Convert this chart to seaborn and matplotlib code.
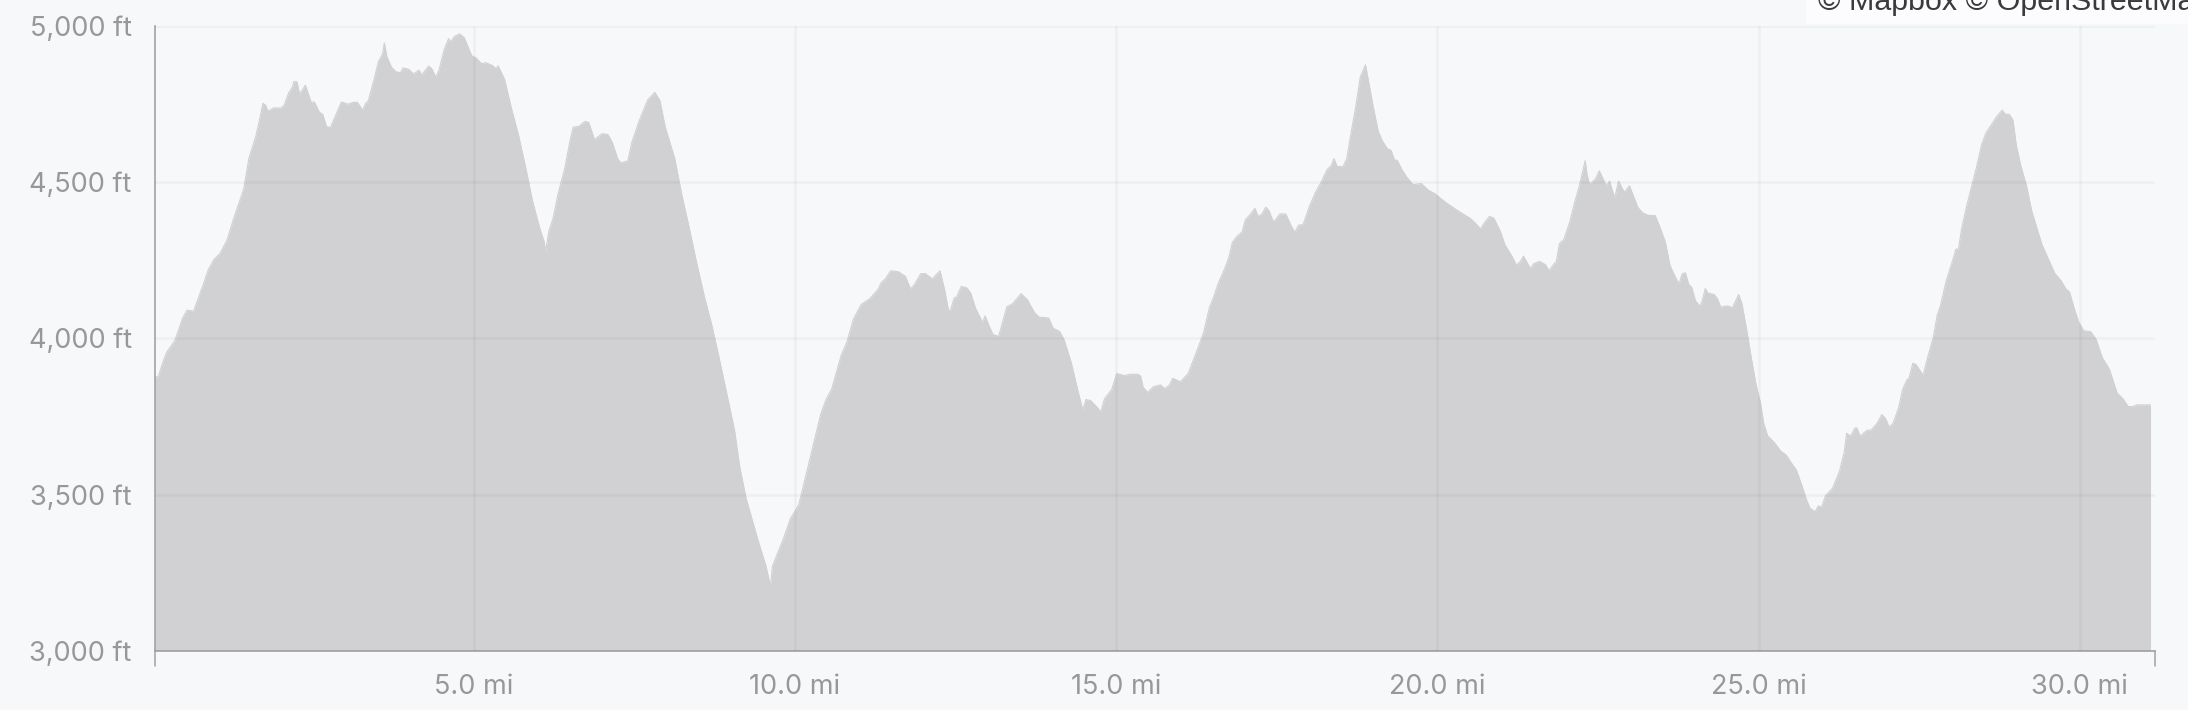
import matplotlib
matplotlib.use("Agg")
import matplotlib.pyplot as plt
import pandas as pd
import seaborn as sns
from matplotlib.patches import Rectangle

# elevation profile
distance_mi = [
    0.02, 0.09, 0.15, 0.22, 0.35, 0.47, 0.54, 0.64, 0.80, 0.87, 0.96, 1.05, 1.16, 1.27, 1.42, 1.50,
    1.61, 1.67, 1.72, 1.76, 1.80, 1.89, 1.94, 2.00, 2.05, 2.12, 2.18, 2.20, 2.25, 2.29, 2.38, 2.47,
    2.52, 2.60, 2.65, 2.71, 2.77, 2.84, 2.94, 3.05, 3.12, 3.19, 3.27, 3.32, 3.36, 3.45, 3.52, 3.58,
    3.61, 3.65, 3.72, 3.79, 3.86, 3.90, 3.99, 4.06, 4.15, 4.19, 4.30, 4.35, 4.41, 4.46, 4.54, 4.61,
    4.64, 4.70, 4.78, 4.85, 4.97, 5.04, 5.12, 5.19, 5.30, 5.35, 5.38, 5.48, 5.59, 5.70, 5.81, 5.91,
    6.02, 6.10, 6.12, 6.17, 6.24, 6.31, 6.42, 6.50, 6.55, 6.64, 6.73, 6.79, 6.88, 7.00, 7.09, 7.16,
    7.24, 7.29, 7.40, 7.46, 7.58, 7.71, 7.82, 7.90, 7.98, 8.13, 8.24, 8.35, 8.47, 8.60, 8.71, 8.82,
    8.91, 8.98, 9.06, 9.14, 9.24, 9.33, 9.43, 9.55, 9.62, 9.65, 9.75, 9.82, 9.93, 10.06, 10.18, 10.29,
    10.40, 10.49, 10.57, 10.67, 10.72, 10.81, 10.91, 11.03, 11.16, 11.29, 11.34, 11.41, 11.49, 11.61,
    11.72, 11.80, 11.86, 11.96, 12.03, 12.14, 12.21, 12.26, 12.33, 12.39, 12.42, 12.48, 12.52, 12.59,
    12.68, 12.74, 12.81, 12.92, 12.96, 13.01, 13.08, 13.17, 13.30, 13.39, 13.52, 13.62, 13.73, 13.80,
    13.95, 14.02, 14.12, 14.19, 14.30, 14.40, 14.48, 14.53, 14.60, 14.71, 14.76, 14.82, 14.93, 15.01,
    15.13, 15.22, 15.33, 15.38, 15.42, 15.49, 15.58, 15.69, 15.76, 15.83, 15.88, 16.00, 16.12, 16.23,
    16.36, 16.45, 16.52, 16.59, 16.67, 16.75, 16.81, 16.88, 16.96, 17.01, 17.09, 17.16, 17.21, 17.27,
    17.33, 17.38, 17.45, 17.55, 17.64, 17.72, 17.78, 17.84, 17.91, 18.01, 18.10, 18.20, 18.28, 18.35,
    18.39, 18.44, 18.53, 18.59, 18.66, 18.73, 18.80, 18.88, 18.93, 19.00, 19.08, 19.14, 19.22, 19.28,
    19.33, 19.38, 19.45, 19.53, 19.62, 19.75, 19.86, 19.96, 20.14, 20.35, 20.51, 20.59, 20.67, 20.74,
    20.81, 20.88, 20.98, 21.05, 21.16, 21.23, 21.29, 21.34, 21.45, 21.50, 21.59, 21.68, 21.74, 21.81,
    21.85, 21.90, 21.97, 22.06, 22.13, 22.21, 22.26, 22.30, 22.33, 22.37, 22.46, 22.52, 22.57, 22.63,
    22.68, 22.76, 22.82, 22.91, 22.99, 23.05, 23.12, 23.20, 23.29, 23.39, 23.46, 23.55, 23.62, 23.68,
    23.76, 23.81, 23.86, 23.91, 23.96, 24.02, 24.09, 24.12, 24.17, 24.21, 24.31, 24.36, 24.41, 24.52,
    24.59, 24.63, 24.69, 24.74, 24.81, 24.88, 24.96, 25.03, 25.08, 25.14, 25.25, 25.34, 25.43, 25.51,
    25.59, 25.68, 25.75, 25.80, 25.88, 25.93, 25.98, 26.04, 26.15, 26.26, 26.33, 26.37, 26.43, 26.50,
    26.53, 26.58, 26.69, 26.75, 26.84, 26.92, 26.98, 27.03, 27.09, 27.18, 27.24, 27.31, 27.34, 27.40,
    27.45, 27.56, 27.63, 27.72, 27.78, 27.83, 27.92, 28.02, 28.07, 28.11, 28.16, 28.23, 28.30, 28.39,
    28.47, 28.54, 28.61, 28.70, 28.79, 28.84, 28.90, 28.96, 29.01, 29.08, 29.17, 29.25, 29.41, 29.52,
    29.61, 29.71, 29.78, 29.84, 29.91, 29.98, 30.06, 30.17, 30.25, 30.35, 30.46, 30.58, 30.67, 30.75,
    30.82, 30.89, 31.10,
]
elevation_ft = [
    3877, 3877, 3916, 3955, 3993, 4065, 4090, 4087, 4177, 4220, 4253, 4271, 4314, 4387, 4477, 4575,
    4647, 4703, 4752, 4746, 4727, 4737, 4737, 4737, 4746, 4785, 4804, 4821, 4821, 4781, 4810, 4756,
    4756, 4723, 4717, 4677, 4674, 4708, 4756, 4749, 4755, 4755, 4730, 4752, 4760, 4829, 4887, 4908,
    4945, 4901, 4868, 4853, 4850, 4865, 4861, 4846, 4858, 4843, 4871, 4862, 4836, 4858, 4923, 4959,
    4949, 4966, 4974, 4963, 4904, 4897, 4879, 4882, 4872, 4862, 4872, 4829, 4734, 4648, 4546, 4445,
    4358, 4307, 4278, 4343, 4387, 4459, 4546, 4633, 4676, 4678, 4694, 4691, 4636, 4655, 4652, 4626,
    4575, 4561, 4568, 4626, 4698, 4763, 4787, 4760, 4677, 4575, 4459, 4358, 4242, 4126, 4039, 3938,
    3851, 3785, 3706, 3590, 3488, 3423, 3351, 3271, 3206, 3271, 3322, 3358, 3423, 3467, 3568, 3662,
    3756, 3807, 3836, 3909, 3945, 3988, 4061, 4108, 4126, 4155, 4177, 4191, 4216, 4213,
    4198, 4158, 4172, 4207, 4207, 4190, 4206, 4216, 4155, 4090, 4090, 4129, 4133, 4166,
    4161, 4143, 4097, 4051, 4072, 4046, 4013, 4006, 4101, 4111, 4143, 4123, 4082, 4068,
    4065, 4032, 4022, 3995, 3923, 3836, 3771, 3804, 3801, 3778, 3764, 3807, 3836, 3887,
    3881, 3885, 3885, 3880, 3843, 3827, 3845, 3851, 3839, 3851, 3872, 3861, 3887, 3945,
    4017, 4097, 4133, 4177, 4213, 4256, 4307, 4326, 4340, 4379, 4397, 4416, 4390, 4398,
    4420, 4408, 4372, 4398, 4398, 4362, 4339, 4362, 4364, 4423, 4466, 4503, 4539, 4553,
    4575, 4550, 4549, 4575, 4662, 4742, 4836, 4875, 4821, 4742, 4662, 4633, 4607, 4601,
    4572, 4568, 4539, 4514, 4492, 4495, 4474, 4463, 4433, 4404, 4384, 4369, 4350, 4372,
    4390, 4384, 4343, 4300, 4263, 4234, 4245, 4263, 4223, 4239, 4246, 4236, 4216, 4237,
    4245, 4303, 4317, 4372, 4430, 4488, 4532, 4568, 4524, 4492, 4510, 4536, 4514, 4488,
    4503, 4449, 4503, 4467, 4488, 4456, 4419, 4401, 4393, 4393, 4358, 4307, 4234, 4206,
    4174, 4206, 4210, 4174, 4162, 4119, 4103, 4119, 4159, 4145, 4140, 4126, 4100, 4104,
    4097, 4114, 4140, 4111, 4032, 3945, 3851, 3793, 3727, 3688, 3665, 3640, 3626, 3601,
    3578, 3525, 3481, 3456, 3445, 3464, 3459, 3496, 3520, 3575, 3633, 3696, 3687, 3713,
    3713, 3687, 3706, 3706, 3727, 3756, 3742, 3716, 3727, 3778, 3836, 3868, 3872, 3920,
    3916, 3882, 3938, 4003, 4075, 4104, 4184, 4249, 4285, 4285, 4351, 4416, 4474, 4546,
    4619, 4658, 4679, 4708, 4730, 4717, 4717, 4698, 4619, 4553, 4488, 4408, 4300, 4249,
    4208, 4184, 4159, 4148, 4097, 4053, 4024, 4021, 3998, 3938, 3901, 3825, 3807, 3782,
    3781, 3787, 3787,
]

x_ticks = [5, 10, 15, 20, 25, 30]
x_labels = ["5.0 mi", "10.0 mi", "15.0 mi", "20.0 mi", "25.0 mi", "30.0 mi"]
y_ticks = [3000, 3500, 4000, 4500, 5000]
y_labels = ["3,000 ft", "3,500 ft", "4,000 ft", "4,500 ft", "5,000 ft"]

BG = "#f7f8fa"
FILL = "#d1d1d3"
AXIS = "#a3a3a5"
TEXT = "#98989b"

sns.set_theme(style="white")
plt.rcParams["font.family"] = ["Inter", "DejaVu Sans"]

W, H = 2188, 710
TOP, BOTTOM = 25.8, 650.8
fig = plt.figure(figsize=(W / 100, H / 100), dpi=100, facecolor=BG)
ax = fig.add_axes([155 / W, 1 - BOTTOM / H, (2155 - 155) / W, (BOTTOM - TOP) / H], facecolor=BG)

df = pd.DataFrame({"distance": distance_mi, "elevation": elevation_ft})
sns.lineplot(data=df, x="distance", y="elevation", color=FILL, linewidth=0.8, estimator=None, ax=ax, zorder=2)
ax.fill_between(df["distance"], 3000, df["elevation"], color=FILL, linewidth=0, zorder=2)

ax.set_xlim(0.04, 31.17)
ax.set_ylim(3000, 5000)
ax.set_xlabel("")
ax.set_ylabel("")

ax.set_xticks(x_ticks, x_labels)
ax.set_yticks(y_ticks, y_labels)
ax.tick_params(axis="x", length=0, pad=17, labelsize=19.5, labelcolor=TEXT)
ax.tick_params(axis="y", length=10.8, width=1.1, color=AXIS, pad=6, labelsize=19.5, labelcolor=TEXT)

# light grid shows through the filled area
ax.grid(True, color="black", alpha=0.035, linewidth=1.8, zorder=3)
ax.set_axisbelow(False)

for side in ["top", "right"]:
    ax.spines[side].set_visible(False)
for side in ["left", "bottom"]:
    ax.spines[side].set_color(AXIS)
    ax.spines[side].set_linewidth(1.2)

# small end ticks below the x axis
for xpos in [0, 1]:
    ax.plot([xpos, xpos], [0, -15 / (BOTTOM - TOP)], transform=ax.transAxes, color=AXIS, linewidth=1.1, clip_on=False, zorder=4)

# map attribution cut off by the frame
fig.add_artist(Rectangle((1806 / W, 1 - 24 / H), (W - 1806) / W, 24 / H, transform=fig.transFigure, facecolor="#fcfcfe", edgecolor="none", zorder=5))
fig.text(1818 / W, 1 - 10 / H, "© Mapbox © OpenStreetMap", color="#3a3a3c", fontsize=21.9, family=["Liberation Sans", "DejaVu Sans"], va="baseline", ha="left", zorder=6)

fig.savefig("out.png", dpi=100, facecolor=BG)
plt.close(fig)
